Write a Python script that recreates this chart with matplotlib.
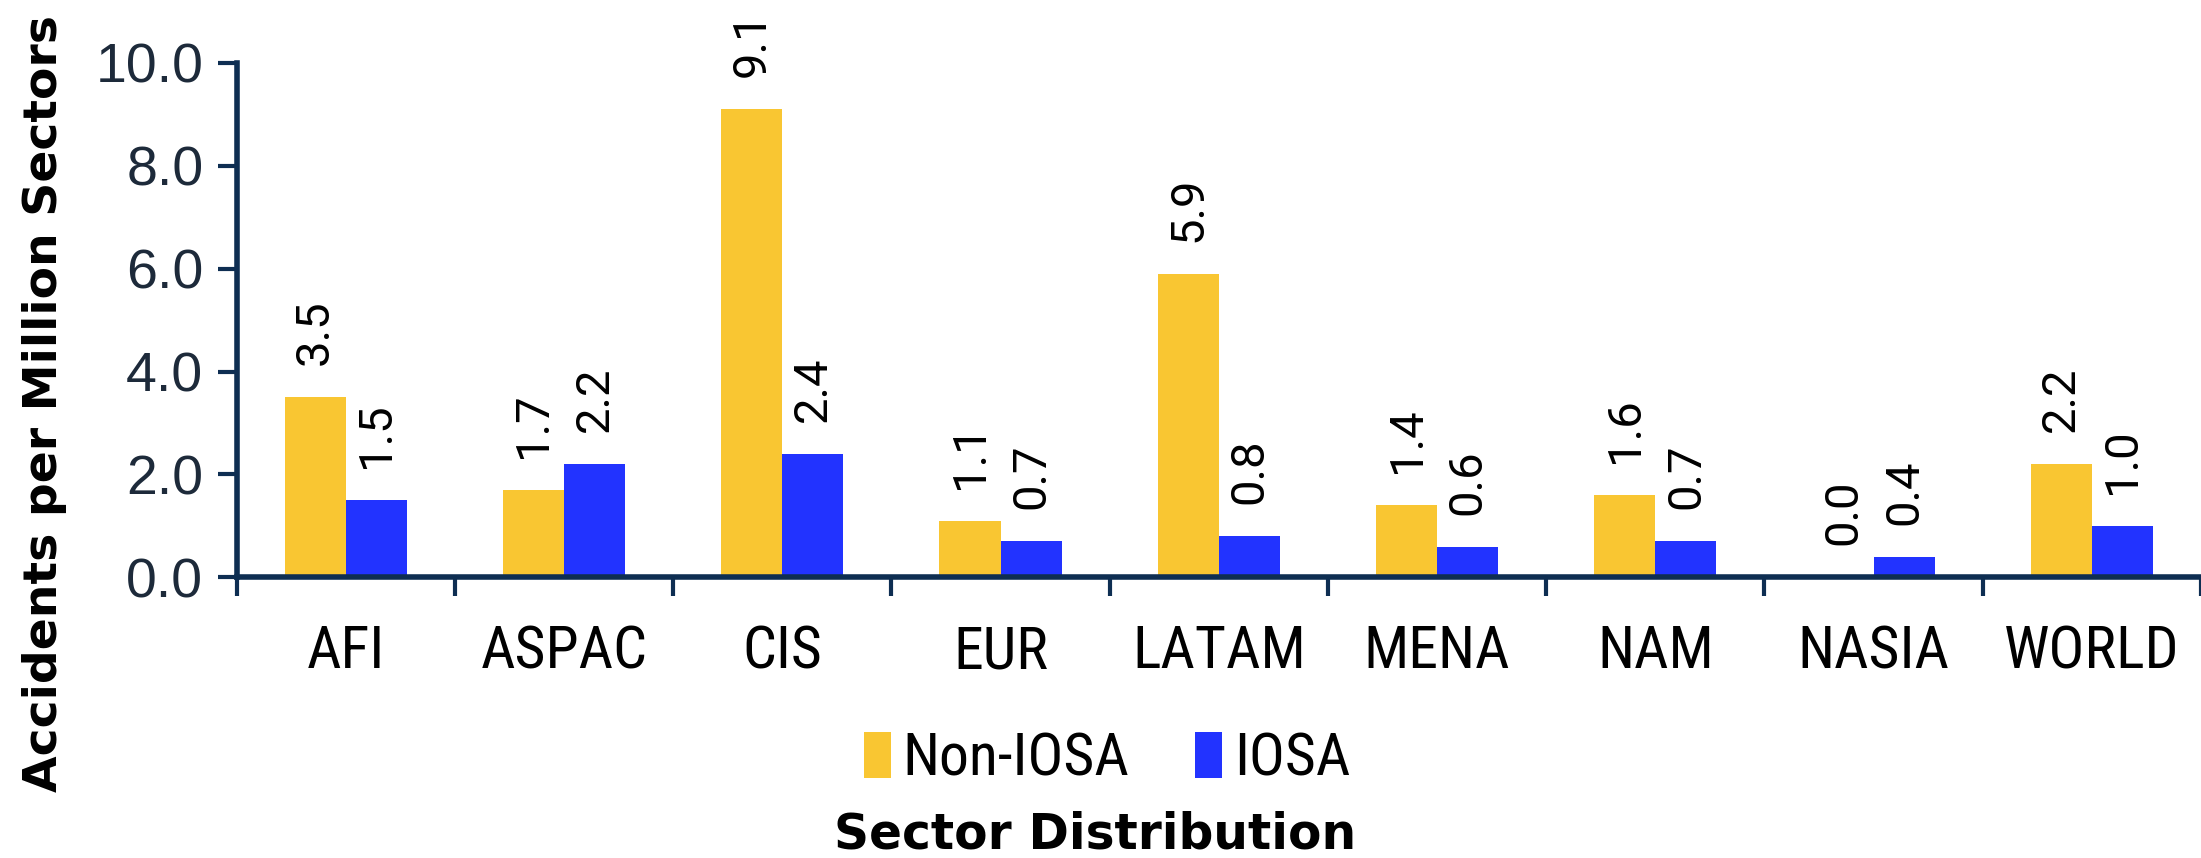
import matplotlib.pyplot as plt
import numpy as np

regions = ['AFI', 'ASPAC', 'CIS', 'EUR', 'LATAM', 'MENA', 'NAM', 'NASIA', 'WORLD']
non_iosa = [3.5, 1.7, 9.1, 1.1, 5.9, 1.4, 1.6, 0.0, 2.2]
iosa = [1.5, 2.2, 2.4, 0.7, 0.8, 0.6, 0.7, 0.4, 1.0]

yellow = '#F9C632'
blue = '#2233FF'
navy = '#0E2E52'
narrow = ['Roboto Condensed', 'Arial Narrow', 'Liberation Sans Narrow', 'Roboto', 'DejaVu Sans']

fig = plt.figure(figsize=(22.01, 8.58), dpi=100)
ax = fig.add_axes([0.1075, 0.327, 0.8925, 0.60])

x = np.arange(len(regions))
w = 0.28
b1 = ax.bar(x - w / 2, non_iosa, w, color=yellow, label='Non-IOSA')
b2 = ax.bar(x + w / 2, iosa, w, color=blue, label='IOSA')

# value labels, rotated, above each bar
for bars, vals in ((b1, non_iosa), (b2, iosa)):
    for r, v in zip(bars, vals):
        ax.annotate('%.1f' % v, (r.get_x() + r.get_width() / 2, r.get_height()),
                    xytext=(0, 23), textcoords='offset points', rotation=90,
                    ha='center', va='bottom', fontsize=34, family=['Roboto', 'DejaVu Sans'])

ax.set_xlim(-0.5, len(regions) - 0.5)
ax.set_ylim(0, 10)
ax.set_yticks(np.arange(0, 10.1, 2))
ax.set_yticklabels(['%.1f' % t for t in np.arange(0, 10.1, 2)], fontsize=40,
                   color='#1d2a3a', family=['Liberation Sans', 'DejaVu Sans'])
ax.set_xticks(x)
ax.set_xticklabels(regions, fontsize=43, family=narrow)
ax.set_xticks(np.arange(-0.5, len(regions)), minor=True)
ax.tick_params(axis='x', which='major', length=0, pad=33)
ax.tick_params(axis='x', which='minor', length=14, width=3, color=navy)
ax.tick_params(axis='y', length=14, width=3, color=navy, pad=10)

for s in ('top', 'right'):
    ax.spines[s].set_visible(False)
for s in ('left', 'bottom'):
    ax.spines[s].set_color(navy)
    ax.spines[s].set_linewidth(4)

fig.text(0.02, 0.53, 'Accidents per Million Sectors', rotation=90, ha='center', va='center',
         fontsize=34, fontweight='bold')

fig.legend(handles=[b1, b2], loc='center', bbox_to_anchor=(0.503, 0.115), ncol=2,
           frameon=False, prop={'family': narrow, 'size': 43},
           handlelength=0.45, handleheight=0.8, handletextpad=0.2, columnspacing=1.1)
fig.text(0.4975, 0.027, 'Sector Distribution', ha='center', va='center',
         fontsize=35, fontweight='bold')

fig.savefig('out.png', dpi=100)
